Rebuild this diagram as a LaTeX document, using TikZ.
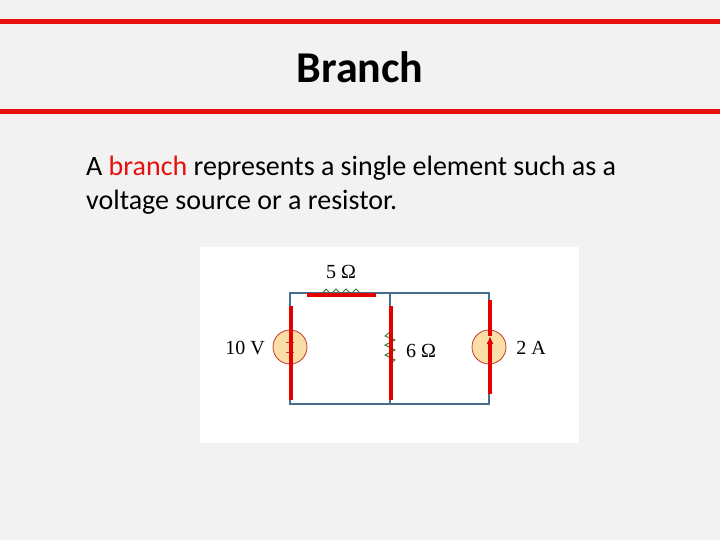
\documentclass[tikz,border=0pt]{standalone}
\usepackage{fontspec}
\usetikzlibrary{arrows.meta}
\setmainfont{Carlito}
\newfontfamily\serif{Liberation Serif}
\definecolor{bg}{HTML}{F2F2F2}
\definecolor{hred}{HTML}{E8100C}
\definecolor{wire}{HTML}{4A6E8E}
\definecolor{src}{HTML}{FBDDA8}
\definecolor{srcb}{HTML}{C0392B}
\definecolor{res}{HTML}{2E7D32}
\begin{document}
\begin{tikzpicture}[x=1pt,y=-1pt,
  rule/.style={hred,line width=5pt},
  wirel/.style={wire,line width=1.3pt},
  branchbar/.style={red!90!black,line width=4pt},
  source/.style={circle,draw=srcb,fill=src,line width=0.8pt,minimum size=34pt,inner sep=0pt},
  lab/.style={font=\serif\fontsize{20}{20}\selectfont,inner sep=0pt},
  zig/.style={res,line width=0.9pt}]
\useasboundingbox (0,0) rectangle (720,540);
\fill[bg] (0,0) rectangle (720,540);
\draw[rule] (0,22) -- (720,22);
\draw[rule] (0,112) -- (720,112);
\node (title) at (360,67) {\fontsize{44}{48}\selectfont\bfseries Branch};
\node[anchor=west,align=left,inner sep=0pt,font=\fontsize{28}{34}\selectfont] (body) at (86,185)
 {A {\color{hred}branch} represents a single element such as a\\voltage source or a resistor.};
\fill[white] (200,247) rectangle (579,443);
% corners
\coordinate (tl) at (290,293); \coordinate (tm) at (390,293); \coordinate (tr) at (489,293);
\coordinate (bl) at (290,404); \coordinate (bm) at (390,404); \coordinate (br) at (489,404);
\draw[wirel] (tl) -- (tr) -- (br) -- (bl) -- cycle;
\draw[wirel] (tm) -- (bm);
\node[source] (vs) at (290,347) {};
\node[source] (cs) at (489,347) {};
\draw[srcb,line width=0.8pt] (286,342) -- (294,342) (286,352) -- (294,352);
% 5 ohm zigzag
\draw[zig] (322,294) -- (326,289) -- (331,294) -- (336,289) -- (341,294) -- (346,289) -- (351,294) -- (356,289) -- (361,294);
% 6 ohm zigzag
\draw[zig] (390,332) -- (385,336) -- (395,340) -- (385,345) -- (395,350) -- (385,355) -- (395,360) -- (390,364);
\draw[branchbar] (291,306) -- (291,400);
\draw[branchbar] (307,295) -- (376,295);
\draw[branchbar] (391,306) -- (391,400);
\draw[branchbar,-{Latex[length=8pt,width=7pt]}] (490,394) -- (490,336);
\draw[branchbar] (490,336) -- (490,300);
\node[lab] (l5) at (341,272) {5 Ω};
\node[lab] (l10) at (245,348) {10 V};
\node[lab] (l6) at (421,351) {6 Ω};
\node[lab] (l2) at (531,348) {2 A};
\end{tikzpicture}
\end{document}
